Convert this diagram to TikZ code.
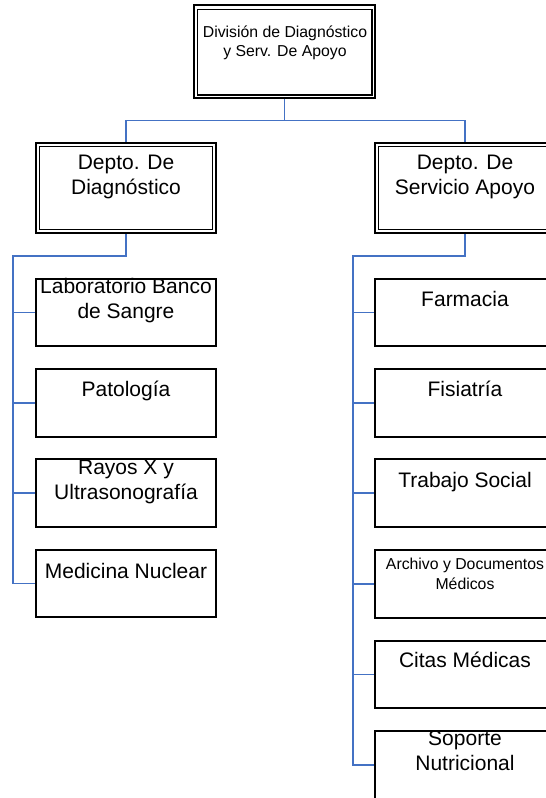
\documentclass[tikz,border=0pt]{standalone}
\usepackage{fontspec}
\setmainfont{Liberation Sans}
\definecolor{connblue}{HTML}{4472C4}
\begin{document}
\begin{tikzpicture}[x=1pt,y=-1pt,
  dbox/.style={draw, line width=2.2pt, inner sep=0pt, minimum width=180pt, minimum height=90pt},
  cbox/.style={draw, line width=1.8pt, inner sep=0pt, minimum width=180pt, minimum height=67.5pt},
  big/.style={anchor=base, inner sep=0pt, align=center, font=\fontsize{21}{24.5}\selectfont},
  small/.style={anchor=base, inner sep=0pt, align=center, font=\fontsize{15.8}{19.5}\selectfont},
  conn/.style={draw=connblue, line width=1.7pt},
  inner/.style={line width=1.3pt}
]
\useasboundingbox (0,0) rectangle (546,798);
\clip (0,0) rectangle (546,798);
\fill[white] (0,0) rectangle (546,798);

% top box
\node[dbox, minimum width=181pt, minimum height=93pt] (top) at (284.5,51.5) {};
\draw[inner] ([shift={(4.5,5.5)}]top.north west) rectangle ([shift={(-4,-4)}]top.south east);
\node[small] (toptxt) at (285,56.7) {División de Diagnóstico\\y Serv. De Apoyo};

% departments
\node[dbox] (ldep) at (126,188) {};
\draw[inner] ([shift={(4.5,4.5)}]ldep.north west) rectangle ([shift={(-4.5,-4.5)}]ldep.south east);
\node[big] (ldeptxt) at (126,194) {Depto. De\\Diagnóstico};

\node[dbox] (rdep) at (465,188) {};
\draw[inner] ([shift={(4.5,4.5)}]rdep.north west) rectangle ([shift={(-4.5,-4.5)}]rdep.south east);
\node[big] (rdeptxt) at (465,194) {Depto. De\\Servicio Apoyo};

% left children
\node[cbox] (lab) at (126,312.5) {};
\node[big] (labtxt) at (126,318) {Laboratorio Banco\\de Sangre};
\node[cbox] (pat) at (126,403) {};
\node[big] (pattxt) at (126,396) {Patología};
\node[cbox] (ray) at (126,493) {};
\node[big] (raytxt) at (126,499) {Rayos X y\\Ultrasonografía};
\node[cbox] (med) at (126,583.5) {};
\node[big] (medtxt) at (126,578) {Medicina Nuclear};

% right children
\node[cbox] (far) at (465,312.5) {};
\node[big] (fartxt) at (465,306) {Farmacia};
\node[cbox] (fis) at (465,403) {};
\node[big] (fistxt) at (465,396) {Fisiatría};
\node[cbox] (tra) at (465,493) {};
\node[big] (tratxt) at (465,487) {Trabajo Social};
\node[cbox] (arc) at (465,584) {};
\node[small] (arctxt) at (465,589) {Archivo y Documentos\\Médicos};
\node[cbox] (cit) at (465,674.5) {};
\node[big] (cittxt) at (465,667) {Citas Médicas};
\node[cbox] (sop) at (465,765) {};
\node[big] (soptxt) at (465,770) {Soporte\\Nutricional};

% connectors
\coordinate (busL) at (126,120.5);
\coordinate (busR) at (465,120.5);
\coordinate (lbus) at (13,256);
\coordinate (rbus) at (353,256);
\draw[conn] (top.south) -- (top.south |- busL);
\draw[conn] (ldep.north) -- (busL) -- (busR) -- (rdep.north);
\draw[conn] (ldep.south) |- (lbus) |- (med.west);
\draw[conn] (lab.west) -- (lab.west -| lbus);
\draw[conn] (pat.west) -- (pat.west -| lbus);
\draw[conn] (ray.west) -- (ray.west -| lbus);
\draw[conn] (rdep.south) |- (rbus) |- (sop.west);
\draw[conn] (far.west) -- (far.west -| rbus);
\draw[conn] (fis.west) -- (fis.west -| rbus);
\draw[conn] (tra.west) -- (tra.west -| rbus);
\draw[conn] (arc.west) -- (arc.west -| rbus);
\draw[conn] (cit.west) -- (cit.west -| rbus);
\end{tikzpicture}
\end{document}
